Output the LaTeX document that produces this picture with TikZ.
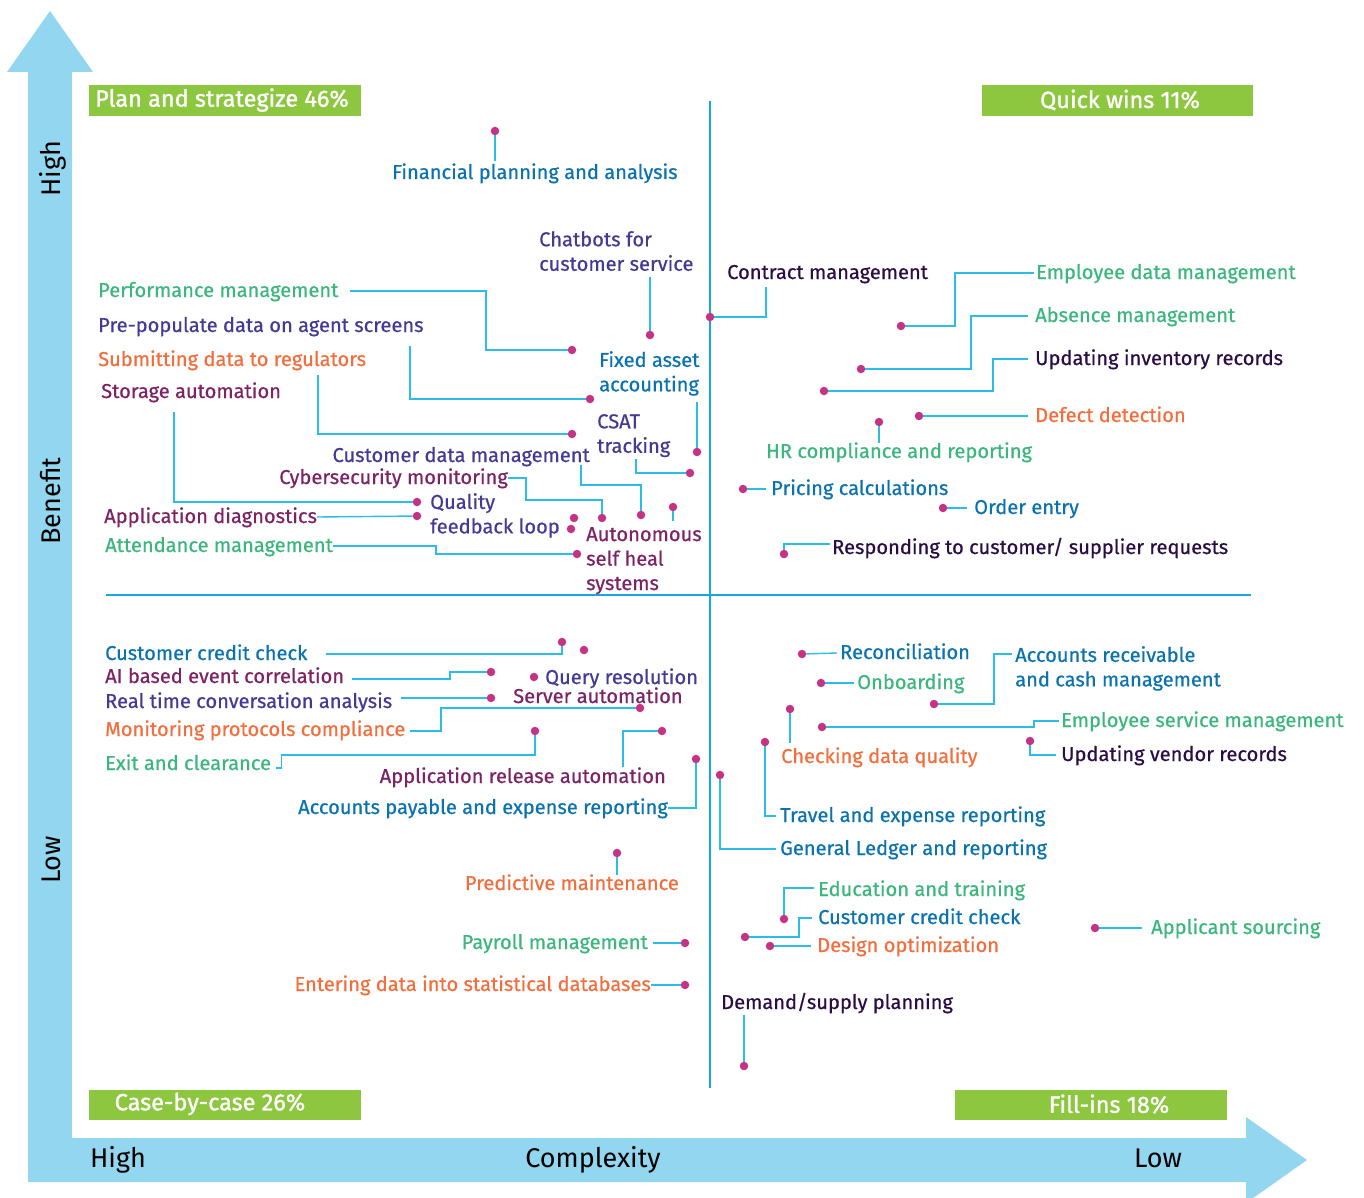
\documentclass[tikz,border=0pt]{standalone}
\usepackage{fontspec}
\setmainfont{Fira Sans}
\newfontfamily\lblfam{Fira Sans}[RawFeature={embolden=0.6}]
\newfontfamily\boxfam{Fira Sans}[RawFeature={embolden=1.3}]
\usetikzlibrary{calc}

\definecolor{axisblue}{HTML}{92D7EF}
\definecolor{quadline}{HTML}{14A8DE}
\definecolor{linkcyan}{HTML}{2BBDE8}
\definecolor{dotpink}{HTML}{C63384}
\definecolor{boxgreen}{HTML}{8DC63F}
\definecolor{txtgreen}{HTML}{3BB77E}
\definecolor{txtblue}{HTML}{0B72B0}
\definecolor{txtindigo}{HTML}{433A95}
\definecolor{txtorange}{HTML}{F46E3D}
\definecolor{txtplum}{HTML}{7C2265}
\definecolor{txtdark}{HTML}{2B0D46}

\newcommand{\lblfont}{\lblfam\fontsize{20.1}{24.5}\selectfont}
\newcommand{\axisfont}{\fontsize{27}{31}\selectfont}
\newcommand{\boxfont}{\boxfam\fontsize{23.5}{27}\selectfont}

\begin{document}
\begin{tikzpicture}[x=1pt, y=-1pt,
    lbl/.style={font=\lblfont, inner sep=0pt, text height=15pt, text depth=3pt, anchor=west},
    mlbl/.style={font=\lblfont, inner sep=0pt, align=left, anchor=north west},
    spot/.style={circle, fill=dotpink, inner sep=0pt, minimum size=8.5pt},
    link/.style={draw=linkcyan, line width=1.4pt},
    quad/.style={draw=quadline, line width=2.4pt},
    qbox/.style={fill=boxgreen, anchor=north west, inner sep=0pt, minimum height=31pt},
    boxtxt/.style={font=\boxfont, text=white, inner sep=0pt},
    axistxt/.style={font=\axisfont, inner sep=0pt, anchor=base}]

  \useasboundingbox (0,0) rectangle (1364,1198);

  % Draw axes (one L-shaped double arrow)
  \fill[axisblue] (28,1182) -- (28,72) -- (7,72) -- (50,11) -- (93,72) -- (72,72)
    -- (72,1138) -- (1246,1138) -- (1246,1117) -- (1307,1160) -- (1246,1203)
    -- (1246,1182) -- cycle;

  \node[axistxt, rotate=90] (yhigh) at (60,169) {High};
  \node[axistxt, rotate=90] (ybenefit) at (60,501) {Benefit};
  \node[axistxt, rotate=90] (ylow) at (60,860) {Low};
  \node[axistxt] (xhigh) at (118,1167) {High};
  \node[axistxt] (xcomplex) at (593,1167) {Complexity};
  \node[axistxt] (xlow) at (1158,1167) {Low};

  % Draw quadrant lines
  \draw[quad] (710,101) -- (710,1088);
  \draw[quad] (106,595) -- (1251,595);

  % Quadrant boxes
  \node[qbox, minimum width=272pt] (bplan) at (89,85) {};
  \node[boxtxt] (tplan) at (222,100) {Plan and strategize 46\%};
  \node[qbox, minimum width=271pt] (bquick) at (982,85) {};
  \node[boxtxt] (tquick) at (1120,100) {Quick wins 11\%};
  \node[qbox, minimum width=272pt, minimum height=30pt] (bcase) at (89,1090) {};
  \node[boxtxt] (tcase) at (210,1104) {Case-by-case 26\%};
  \node[qbox, minimum width=272pt, minimum height=30pt] (bfill) at (955,1090) {};
  \node[boxtxt] (tfill) at (1109,1104) {Fill-ins 18\%};

  % Plan and strategize
  \node[lbl, text=txtblue] (lfpa) at (392,173) {Financial planning and analysis};
  \node[mlbl, text=txtindigo] (lchat) at (539,231) {Chatbots for\\customer service};
  \node[lbl, text=txtgreen] (lperf) at (98,291) {Performance management};
  \node[lbl, text=txtindigo] (lprepop) at (98,326) {Pre-populate data on agent screens};
  \node[lbl, text=txtorange] (lsubm) at (98,360) {Submitting data to regulators};
  \node[lbl, text=txtplum] (lstor) at (101,392) {Storage automation};
  \node[mlbl, text=txtblue] (lfix) at (599,351) {Fixed asset\\accounting};
  \node[mlbl, text=txtindigo] (lcsat) at (597,414) {CSAT\\tracking};
  \node[lbl, text=txtindigo, anchor=east] (lcdm) at (590,456) {Customer data management};
  \node[lbl, text=txtplum, anchor=east] (lcyber) at (508,478) {Cybersecurity monitoring};
  \node[mlbl, text=txtindigo] (lqual) at (430,493) {Quality\\feedback loop};
  \node[lbl, text=txtplum] (lappd) at (104,517) {Application diagnostics};
  \node[lbl, text=txtgreen] (latt) at (105,546) {Attendance management};
  \node[mlbl, text=txtplum] (lauto) at (586,527) {Autonomous\\self heal\\systems};

  \node[spot] (dfpa) at (495,131) {};
  \node[spot] (dchat) at (650,335) {};
  \node[spot] (dperf) at (572,350) {};
  \node[spot] (dprepop) at (590,399) {};
  \node[spot] (dsubm) at (572,434) {};
  \node[spot] (dstor) at (417,502) {};
  \node[spot] (dfix) at (697,452) {};
  \node[spot] (dcsat) at (690,473) {};
  \node[spot] (dcdm) at (641,515) {};
  \node[spot] (dcyber) at (602,518) {};
  \node[spot] (dqual) at (574,518) {};
  \node[spot] (dqualb) at (571,529) {};
  \node[spot] (dappd) at (417,516) {};
  \node[spot] (datt) at (577,554) {};
  \node[spot] (dauto) at (673,507) {};

  \draw[link] (dfpa) -- ($(dfpa |- lfpa.north)+(0,-3)$);
  \draw[link] (dchat) -- ($(dchat |- lchat.south)+(0,6)$);
  \draw[link] ($(lperf.east)+(11,0)$) -| (486,350) -- (dperf);
  \draw[link] (dprepop) -| ($(lprepop.west)+(312,20)$);
  \draw[link] (dsubm) -| ($(lsubm.west)+(220,15)$);
  \draw[link] (dstor) -| ($(lstor.west)+(73,20)$);
  \draw[link] (dfix) -- ($(dfix |- lfix.south)+(0,6)$);
  \draw[link] (dcsat) -| ($(lcsat.south west)+(39,2)$);
  \draw[link] ($(lcdm.east)+(-9,9)$) |- (641,485) -- (dcdm);
  \draw[link] (lcyber.east) -- ++(18,0) |- (602,500) -- (dcyber);
  \draw[link] (lappd.east) -- (dappd);
  \draw[link] (latt.east) -| (436,554) -- (datt);
  \draw[link] (dauto) -- ($(dauto |- lauto.north)+(0,-6)$);

  % Quick wins
  \node[lbl, text=txtdark] (lcon) at (727,273) {Contract management};
  \node[lbl, text=txtgreen] (lemp) at (1036,273) {Employee data management};
  \node[lbl, text=txtgreen] (labs) at (1035,316) {Absence management};
  \node[lbl, text=txtdark] (linv) at (1035,359) {Updating inventory records};
  \node[lbl, text=txtorange] (ldef) at (1035,416) {Defect detection};
  \node[lbl, text=txtgreen] (lhr) at (766,452) {HR compliance and reporting};
  \node[lbl, text=txtblue] (lpric) at (771,489) {Pricing calculations};
  \node[lbl, text=txtblue] (lord) at (974,508) {Order entry};
  \node[lbl, text=txtdark] (lresp) at (832,548) {Responding to customer/ supplier requests};

  \node[spot] (dcon) at (710,317) {};
  \node[spot] (demp) at (901,326) {};
  \node[spot] (dabs) at (861,369) {};
  \node[spot] (dinv) at (824,391) {};
  \node[spot] (ddef) at (919,416) {};
  \node[spot] (dhr) at (879,422) {};
  \node[spot] (dpric) at (743,489) {};
  \node[spot] (dord) at (943,508) {};
  \node[spot] (dresp) at (784,554) {};

  \draw[link] (dcon) -| ($(lcon.west)+(39,14)$);
  \draw[link] ($(lemp.west)+(-2,0)$) -| (955,326) -- (demp);
  \draw[link] ($(labs.west)+(-7,0)$) -| (971,369) -- (dabs);
  \draw[link] ($(linv.west)+(-7,0)$) -| (993,391) -- (dinv);
  \draw[link] ($(ldef.west)+(-7,0)$) -- (ddef);
  \draw[link] (dhr) -- (dhr |- lhr.north);
  \draw[link] (dpric) -- ($(lpric.west)+(-5,0)$);
  \draw[link] (dord) -- ($(lord.west)+(-7,0)$);
  \draw[link] (dresp) |- ($(lresp.west)+(-2,-4)$);

  % Case-by-case
  \node[lbl, text=txtblue] (lccl) at (105,654) {Customer credit check};
  \node[lbl, text=txtplum] (laiec) at (105,677) {AI based event correlation};
  \node[lbl, text=txtindigo] (lqres) at (545,678) {Query resolution};
  \node[lbl, text=txtindigo] (lrtca) at (105,702) {Real time conversation analysis};
  \node[lbl, text=txtplum] (lserv) at (513,697) {Server automation};
  \node[lbl, text=txtorange] (lmpc) at (105,730) {Monitoring protocols compliance};
  \node[lbl, text=txtgreen] (lexit) at (105,764) {Exit and clearance};
  \node[lbl, text=txtplum, anchor=east] (lara) at (666,777) {Application release automation};
  \node[lbl, text=txtblue, anchor=east] (lapr) at (668,808) {Accounts payable and expense reporting};
  \node[lbl, text=txtorange, anchor=east] (lpred) at (679,884) {Predictive maintenance};
  \node[lbl, text=txtgreen, anchor=east] (lpay) at (648,943) {Payroll management};
  \node[lbl, text=txtorange, anchor=east] (lent) at (651,985) {Entering data into statistical databases};

  \node[spot] (dccl) at (562,642) {};
  \node[spot] (dspare) at (584,650) {};
  \node[spot] (daiec) at (491,672) {};
  \node[spot] (dqres) at (534,677) {};
  \node[spot] (drtca) at (491,698) {};
  \node[spot] (dmpc) at (640,708) {};
  \node[spot] (dexit) at (535,731) {};
  \node[spot] (dara) at (662,731) {};
  \node[spot] (dapr) at (696,759) {};
  \node[spot] (dpred) at (617,853) {};
  \node[spot] (dpay) at (685,943) {};
  \node[spot] (dent) at (685,985) {};

  \draw[link] ($(lccl.east)+(18,0)$) -| (dccl);
  \draw[link] ($(laiec.east)+(8,2)$) -| (450,672) -- (daiec);
  \draw[link] ($(lrtca.east)+(9,-4)$) -- (drtca);
  \draw[link] ($(lmpc.east)+(4,1)$) -| (441,708) -- (dmpc);
  \draw[link] ($(lexit.east)+(5,4)$) -- ++(5,0) |- (535,755) -- (dexit);
  \draw[link] ($(lara.east)+(-43,-10)$) |- (dara);
  \draw[link] (lapr.east) -| (dapr);
  \draw[link] (dpred) -- (dpred |- lpred.north);
  \draw[link] ($(lpay.east)+(5,0)$) -- (dpay);
  \draw[link] (lent.east) -- (dent);

  % Fill-ins
  \node[lbl, text=txtblue] (lrec) at (840,653) {Reconciliation};
  \node[lbl, text=txtgreen] (lonb) at (857,683) {Onboarding};
  \node[mlbl, text=txtblue] (larc) at (1015,646) {Accounts receivable\\and cash management};
  \node[lbl, text=txtorange] (lcdq) at (781,757) {Checking data quality};
  \node[lbl, text=txtgreen] (lesm) at (1061,721) {Employee service management};
  \node[lbl, text=txtdark] (luvr) at (1061,755) {Updating vendor records};
  \node[lbl, text=txtblue] (lter) at (780,816) {Travel and expense reporting};
  \node[lbl, text=txtblue] (lgl) at (780,849) {General Ledger and reporting};
  \node[lbl, text=txtgreen] (ledu) at (818,890) {Education and training};
  \node[lbl, text=txtblue] (lccr) at (818,918) {Customer credit check};
  \node[lbl, text=txtorange] (ldes) at (817,946) {Design optimization};
  \node[lbl, text=txtgreen] (lapp) at (1151,928) {Applicant sourcing};
  \node[lbl, text=txtdark] (ldsp) at (721,1003) {Demand/supply planning};

  \node[spot] (drec) at (802,654) {};
  \node[spot] (donb) at (821,683) {};
  \node[spot] (darc) at (934,704) {};
  \node[spot] (dcdq) at (790,709) {};
  \node[spot] (desm) at (822,727) {};
  \node[spot] (duvr) at (1030,741) {};
  \node[spot] (dter) at (765,742) {};
  \node[spot] (dgl) at (720,775) {};
  \node[spot] (dedu) at (784,919) {};
  \node[spot] (dccr) at (745,937) {};
  \node[spot] (ddes) at (770,946) {};
  \node[spot] (dapp) at (1095,928) {};
  \node[spot] (ddsp) at (744,1066) {};

  \draw[link] (drec) -- ($(lrec.west)+(-3,0)$);
  \draw[link] (donb) -- ($(lonb.west)+(-3,0)$);
  \draw[link] (darc) -| (994,654) -- ($(larc.north west)+(-3,8)$);
  \draw[link] (dcdq) -- ($(dcdq |- lcdq.north)+(0,-5)$);
  \draw[link] (desm) -| (1034,721) -- ($(lesm.west)+(-2,0)$);
  \draw[link] (duvr) |- ($(luvr.west)+(-5,0)$);
  \draw[link] (dter) |- ($(lter.west)+(-4,0)$);
  \draw[link] (dgl) |- ($(lgl.west)+(-4,0)$);
  \draw[link] (dedu) |- ($(ledu.west)+(-4,-2)$);
  \draw[link] (dccr) -| (799,918) -- ($(lccr.west)+(-6,0)$);
  \draw[link] (ddes) -- ($(ldes.west)+(-6,0)$);
  \draw[link] (dapp) -- ($(lapp.west)+(-9,0)$);
  \draw[link] (ddsp) -- ($(ddsp |- ldsp.south)+(0,3)$);

\end{tikzpicture}
\end{document}
